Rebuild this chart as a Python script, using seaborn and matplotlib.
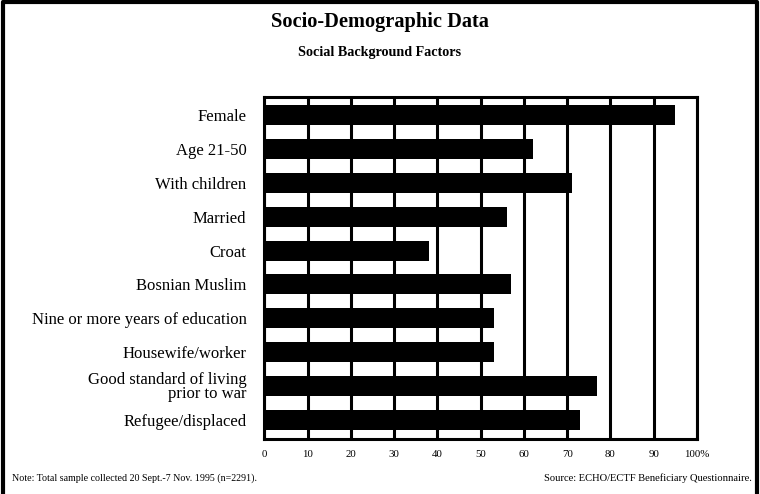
import matplotlib
matplotlib.use("Agg")
import matplotlib.pyplot as plt
import seaborn as sns
import pandas as pd

# data (percent of respondents)
factors = [
    "Female",
    "Age 21-50",
    "With children",
    "Married",
    "Croat",
    "Bosnian Muslim",
    "Nine or more years of education",
    "Housewife/worker",
    "Good standard of living\nprior to war",
    "Refugee/displaced",
]
percent = [95, 62, 71, 56, 38, 57, 53, 53, 77, 73]
xticks = [0, 10, 20, 30, 40, 50, 60, 70, 80, 90, 100]
xtick_labels = ["0", "10", "20", "30", "40", "50", "60", "70", "80", "90", "100%"]

df = pd.DataFrame({"factor": factors, "percent": percent})

sns.set_style("white")
plt.rcParams["font.family"] = ["Liberation Serif", "DejaVu Serif"]
plt.rcParams["text.color"] = "black"
plt.rcParams["xtick.color"] = "black"
plt.rcParams["ytick.color"] = "black"

fig = plt.figure(figsize=(7.6, 4.94), dpi=100)
ax = fig.add_axes([0.348, 0.111, 0.569, 0.693])

sns.barplot(data=df, y="factor", x="percent", orient="h", color="black",
            width=0.59, saturation=1, edgecolor="black", linewidth=0,
            ax=ax, zorder=3)

ax.set_xlim(0, 100)
ax.set_ylim(9.56, -0.53)
ax.set_xticks(xticks)
ax.set_xticklabels(xtick_labels, fontsize=7.8)
ax.tick_params(axis="x", length=0, pad=8)
ax.tick_params(axis="y", length=0, pad=13, labelsize=12)
for lab in ax.get_yticklabels():
    lab.set_linespacing(0.85)
ax.set_xlabel("")
ax.set_ylabel("")

ax.grid(axis="x", color="black", linewidth=2.2, zorder=0)
ax.set_axisbelow(True)
for sp in ax.spines.values():
    sp.set_visible(True)
    sp.set_color("black")
    sp.set_linewidth(2.2)

fig.text(0.5, 0.955, "Socio-Demographic Data", ha="center", va="center",
         fontsize=14.7, fontweight="bold")
fig.text(0.5, 0.893, "Social Background Factors", ha="center", va="center",
         fontsize=10.2, fontweight="bold")
fig.text(0.016, 0.032, "Note: Total sample collected 20 Sept.-7 Nov. 1995 (n=2291).",
         ha="left", va="center", fontsize=7.2)
fig.text(0.989, 0.032, "Source: ECHO/ECTF Beneficiary Questionnaire.",
         ha="right", va="center", fontsize=7.6)

# page frame (left, top, right)
fig.add_artist(plt.Line2D([0.004, 0.004, 0.996, 0.996], [0.0, 0.996, 0.996, 0.0],
                          color="black", linewidth=3, transform=fig.transFigure))

fig.savefig("out.png", dpi=100)
